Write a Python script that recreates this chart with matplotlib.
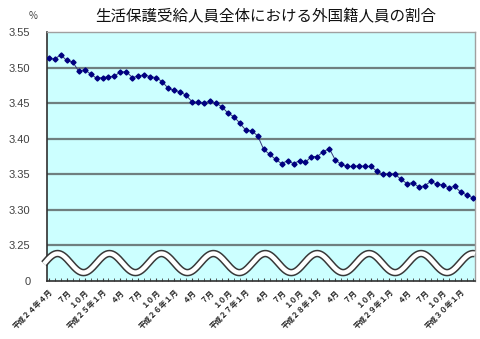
import numpy as np
import matplotlib.pyplot as plt

plt.rcParams['font.family'] = ['Noto Sans CJK JP', 'DejaVu Sans']

# 平成24年4月から平成30年3月までの月次割合（%）
ratio = [
    3.513, 3.512, 3.518, 3.510, 3.508, 3.495, 3.497, 3.491, 3.485, 3.486, 3.487, 3.488,
    3.494, 3.494, 3.486, 3.488, 3.490, 3.487, 3.486, 3.480, 3.471, 3.468, 3.466, 3.461,
    3.452, 3.451, 3.450, 3.453, 3.450, 3.445, 3.436, 3.431, 3.422, 3.412, 3.411, 3.404,
    3.385, 3.378, 3.371, 3.365, 3.369, 3.365, 3.369, 3.367, 3.375, 3.375, 3.382, 3.386,
    3.370, 3.364, 3.361, 3.361, 3.362, 3.361, 3.361, 3.354, 3.350, 3.350, 3.350, 3.343,
    3.337, 3.338, 3.332, 3.334, 3.340, 3.336, 3.335, 3.331, 3.333, 3.325, 3.321, 3.317,
]

# 3か月ごとの目盛ラベル
month_labels = ['平成２４年４月', '７月', '１０月']
for year in ['２５', '２６', '２７', '２８', '２９', '３０']:
    month_labels += ['平成' + year + '年１月', '４月', '７月', '１０月']
month_labels = month_labels[:24]

y_ticks = [3.20, 3.25, 3.30, 3.35, 3.40, 3.45, 3.50, 3.55]
y_tick_labels = ['0', '3.25', '3.30', '3.35', '3.40', '3.45', '3.50', '3.55']

x = np.arange(len(ratio))

fig = plt.figure(figsize=(4.8, 3.39), dpi=100)
ax = fig.add_axes([47 / 480, 1 - 281 / 339, 428 / 480, 249 / 339])
ax.set_facecolor('#ccffff')
ax.set_xlim(-0.3, 71.4)
ax.set_ylim(3.20, 3.55)

# 横の目盛線
for v in y_ticks[1:-1]:
    ax.axhline(v, color='#6f7f7f', lw=1.6, zorder=1)

# 省略を示す波線
wx = np.linspace(-0.8, 71.4, 600)
wy = 3.2252 + 0.0134 * np.cos(2 * np.pi * (wx - 71.07) / 8.7)
ax.plot(wx, wy, color='#383838', lw=5.4, solid_capstyle='butt', zorder=2, clip_on=False)
ax.plot(wx, wy, color='white', lw=3.2, solid_capstyle='butt', zorder=3, clip_on=False)

ax.plot(x, ratio, color='#34347a', lw=0.7, marker='D', ms=2.6,
        markerfacecolor='#000080', markeredgecolor='#000080', zorder=4)

ax.set_yticks(y_ticks)
ax.set_yticklabels(y_tick_labels, family='Liberation Sans', fontsize=8, color='#404040')
ax.tick_params(axis='y', length=0, pad=12)

ax.set_xticks(x, minor=True)
ax.set_xticks(x[::3])
ax.set_xticklabels(month_labels, rotation=45, ha='right', va='top',
                   rotation_mode='anchor', fontsize=5.4, fontweight='bold', color='#202020')
ax.tick_params(axis='x', which='both', direction='in', length=2.2, color='#404040', pad=5)

for side in ['left', 'bottom']:
    ax.spines[side].set_color('#303030')
    ax.spines[side].set_linewidth(1.2)
for side in ['top', 'right']:
    ax.spines[side].set_color('#a0a0a0')
    ax.spines[side].set_linewidth(1.0)

fig.text(33 / 480, 1 - 16 / 339, '%', fontsize=7, color='#404040', ha='center', va='center')
fig.text(266 / 480, 1 - 17 / 339, '生活保護受給人員全体における外国籍人員の割合',
         fontsize=11.2, ha='center', va='center', color='#111111')

fig.savefig('out.png', dpi=100)
